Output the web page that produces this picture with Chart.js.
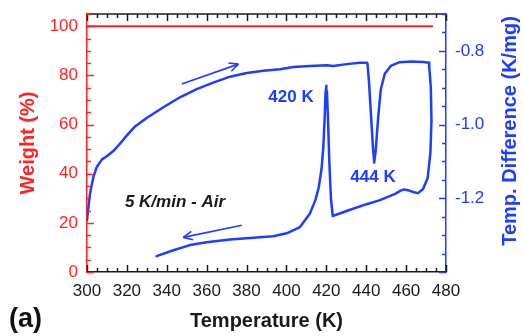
<!DOCTYPE html>
<html>
<head>
<meta charset="utf-8">
<script src="https://cdn.jsdelivr.net/npm/chart.js@4.4.0/dist/chart.umd.min.js"></script>
<style>
  html, body { margin: 0; padding: 0; background: #fff; }
  canvas { display: block; }
</style>
</head>
<body>
<canvas id="tga" width="523" height="336"></canvas>
<script>
// Weight trace (TG): flat at 100 % over the whole run
const weightTemp = [300, 473.5];
const weightPct = [100, 100];

// DTA trace: heating branch, turn-around near 473 K, cooling branch (one continuous loop)
const dtaTemp = [
  300.0, 301.5, 303.2, 304.9, 307.4, 309.9, 313.2, 316.5, 319.9, 324.1,
  329.9, 338.3, 346.6, 355.0, 363.3, 371.7, 380.1, 388.4, 396.8, 403.4,
  411.8, 420.2, 423.5, 430.2, 436.9, 440.2, 440.6, 441.4, 442.4, 443.3,
  444.0, 444.8, 446.0, 447.3, 449.3, 452.5, 456.5, 463.0, 468.5, 471.5,
  471.6, 472.4, 472.7, 472.2, 470.8, 468.5, 466.0, 463.5, 461.0, 459.0,
  457.0, 454.5, 450.5, 446.9, 440.2, 431.9, 423.2, 422.3, 421.5, 420.8,
  420.3, 420.0, 419.6, 419.1, 418.5, 417.6, 416.2, 414.5, 411.8, 406.8,
  400.1, 393.4, 386.7, 371.7, 360.0, 351.6, 343.3, 334.9
];
const dtaValue = [
  -1.260, -1.187, -1.142, -1.115, -1.095, -1.086, -1.072, -1.052, -1.030, -1.005,
  -0.982, -0.953, -0.926, -0.904, -0.886, -0.870, -0.860, -0.854, -0.850, -0.844,
  -0.841, -0.839, -0.841, -0.836, -0.832, -0.832, -0.833, -0.885, -0.975, -1.055,
  -1.103, -1.068, -0.980, -0.905, -0.862, -0.840, -0.831, -0.829, -0.830, -0.832,
  -0.845, -0.900, -0.990, -1.075, -1.145, -1.175, -1.186, -1.183, -1.178, -1.176,
  -1.180, -1.188, -1.197, -1.205, -1.216, -1.231, -1.248, -1.200, -1.100, -0.980,
  -0.910, -0.895, -0.915, -0.990, -1.060, -1.120, -1.170, -1.205, -1.241, -1.278,
  -1.295, -1.303, -1.306, -1.312, -1.319, -1.327, -1.341, -1.357
];

// Annotations, placed in (temperature, temp. difference) units
const peakLabels = [
  { text: '420 K', t: 402.3, v: -0.927 },
  { text: '444 K', t: 443.4, v: -1.143 }
];
const runNote = { text: '5 K/min - Air', t: 344.1, v: -1.211 };
const heatingArrow = { from: [347.5, -0.890], to: [375.9, -0.836] };
const coolingArrow = { from: [377.6, -1.273], to: [348.3, -1.306] };

const FONT = "'Liberation Sans', Arial, sans-serif";
const RED = '#ff2424';
const BLUE = '#1f3dff';
const INK = '#1a1a1a';

function toPoints(xs, ys) {
  return xs.map((x, i) => ({ x: x, y: ys[i] }));
}

// Inward minor/major ticks on all four sides, top frame line, annotations
const framePlugin = {
  id: 'frame',
  afterDraw(chart) {
    const { ctx, chartArea: a, scales } = chart;
    const x = scales.x, yW = scales.yW, yT = scales.yT;
    const seg = (x0, y0, x1, y1) => { ctx.beginPath(); ctx.moveTo(x0, y0); ctx.lineTo(x1, y1); ctx.stroke(); };
    ctx.save();
    ctx.lineWidth = 1.5;

    // top frame
    ctx.strokeStyle = INK;
    seg(a.left, a.top, a.right, a.top);
    for (let t = x.min; t <= x.max + 1e-9; t += 5) {
      const px = Math.round(x.getPixelForValue(t)) + 0.5;
      const len = (Math.round(t) % 20 === 0) ? 7 : 4;
      seg(px, a.bottom, px, a.bottom - len);
      seg(px, a.top, px, a.top + len);
    }

    // left (weight) ticks
    ctx.strokeStyle = RED;
    for (let w = 0; w <= yW.max + 1e-9; w += 5) {
      const py = Math.round(yW.getPixelForValue(w)) + 0.5;
      const len = (w % 20 === 0) ? 7 : 4;
      seg(a.left, py, a.left + len, py);
    }

    // right (temp. difference) ticks
    ctx.strokeStyle = BLUE;
    for (let k = 0; k <= 14; k++) {
      const v = -1.4 + k * 0.05;
      const py = Math.round(yT.getPixelForValue(v)) + 0.5;
      const len = (k % 4 === 0) ? 7 : 4;
      seg(a.right, py, a.right - len, py);
    }

    // arrows
    ctx.strokeStyle = BLUE;
    ctx.lineWidth = 1.6;
    const arrow = (ar) => {
      const x0 = x.getPixelForValue(ar.from[0]), y0 = yT.getPixelForValue(ar.from[1]);
      const x1 = x.getPixelForValue(ar.to[0]), y1 = yT.getPixelForValue(ar.to[1]);
      seg(x0, y0, x1, y1);
      const ang = Math.atan2(y1 - y0, x1 - x0);
      const h = 10, spread = 0.45;
      seg(x1, y1, x1 - h * Math.cos(ang - spread), y1 - h * Math.sin(ang - spread));
      seg(x1, y1, x1 - h * Math.cos(ang + spread), y1 - h * Math.sin(ang + spread));
    };
    arrow(heatingArrow);
    arrow(coolingArrow);

    // peak labels
    ctx.textAlign = 'center';
    ctx.textBaseline = 'middle';
    ctx.fillStyle = BLUE;
    ctx.font = 'bold 17px ' + FONT;
    peakLabels.forEach(l => ctx.fillText(l.text, x.getPixelForValue(l.t), yT.getPixelForValue(l.v)));

    ctx.fillStyle = INK;
    ctx.font = 'italic bold 17px ' + FONT;
    ctx.fillText(runNote.text, x.getPixelForValue(runNote.t), yT.getPixelForValue(runNote.v));

    // right axis title, reading bottom to top
    ctx.save();
    ctx.translate(yT.right - 13, (a.top + a.bottom) / 2 - 12);
    ctx.rotate(-Math.PI / 2);
    ctx.fillStyle = BLUE;
    ctx.font = 'bold 20px ' + FONT;
    ctx.fillText('Temp. Difference (K/mg)', 0, 0);
    ctx.restore();

    // panel tag
    ctx.textAlign = 'left';
    ctx.fillStyle = '#111';
    ctx.font = 'bold 27px ' + FONT;
    ctx.fillText('(a)', 9, 320);
    ctx.restore();
  }
};

function fixVertical(width) {
  return function (s) {
    s.width = width;
    s.paddingTop = 0;
    s.paddingBottom = 0;
  };
}

new Chart(document.getElementById('tga'), {
  type: 'scatter',
  data: {
    datasets: [
      {
        label: 'Weight',
        data: toPoints(weightTemp, weightPct),
        yAxisID: 'yW',
        showLine: true,
        borderColor: RED,
        borderWidth: 2,
        pointRadius: 0
      },
      {
        label: 'Temp. Difference',
        data: toPoints(dtaTemp, dtaValue),
        yAxisID: 'yT',
        showLine: true,
        borderColor: BLUE,
        borderWidth: 2.5,
        pointRadius: 0,
        tension: 0,
        borderJoinStyle: 'round',
        borderCapStyle: 'round'
      }
    ]
  },
  options: {
    responsive: false,
    animation: false,
    devicePixelRatio: 1,
    layout: { padding: { top: 14, left: 0, right: 0, bottom: 0 } },
    plugins: { legend: { display: false }, tooltip: { enabled: false } },
    scales: {
      x: {
        type: 'linear',
        position: 'bottom',
        min: 300,
        max: 480,
        ticks: { stepSize: 20, autoSkip: false, maxRotation: 0, includeBounds: false, padding: 9,
                 color: INK, font: { family: FONT, size: 17 } },
        grid: { display: false, drawTicks: false },
        border: { display: true, color: INK, width: 1.5 },
        title: { display: true, text: 'Temperature (K)', color: INK,
                 font: { family: FONT, size: 20, weight: 'bold' }, padding: { top: 0, bottom: 3 } },
        afterFit(s) { s.height = 64; s.paddingLeft = 0; s.paddingRight = 0; }
      },
      yW: {
        type: 'linear',
        position: 'left',
        min: 0,
        max: 105,
        ticks: { stepSize: 20, includeBounds: false, padding: 9, color: RED,
                 font: { family: FONT, size: 17 } },
        grid: { display: false, drawTicks: false },
        border: { display: true, color: RED, width: 1.5 },
        title: { display: true, text: 'Weight (%)', color: RED,
                 font: { family: FONT, size: 20, weight: 'bold' }, padding: { top: 16, bottom: 0 } },
        afterFit: fixVertical(87)
      },
      yT: {
        type: 'linear',
        position: 'right',
        min: -1.4,
        max: -0.7,
        ticks: { stepSize: 0.2, includeBounds: false, padding: 9, color: BLUE,
                 font: { family: FONT, size: 17 }, callback: v => v.toFixed(1) },
        grid: { display: false, drawTicks: false },
        border: { display: true, color: BLUE, width: 1.5 },
        title: { display: false },
        afterFit: fixVertical(77)
      }
    }
  },
  plugins: [framePlugin]
});
</script>
</body>
</html>
